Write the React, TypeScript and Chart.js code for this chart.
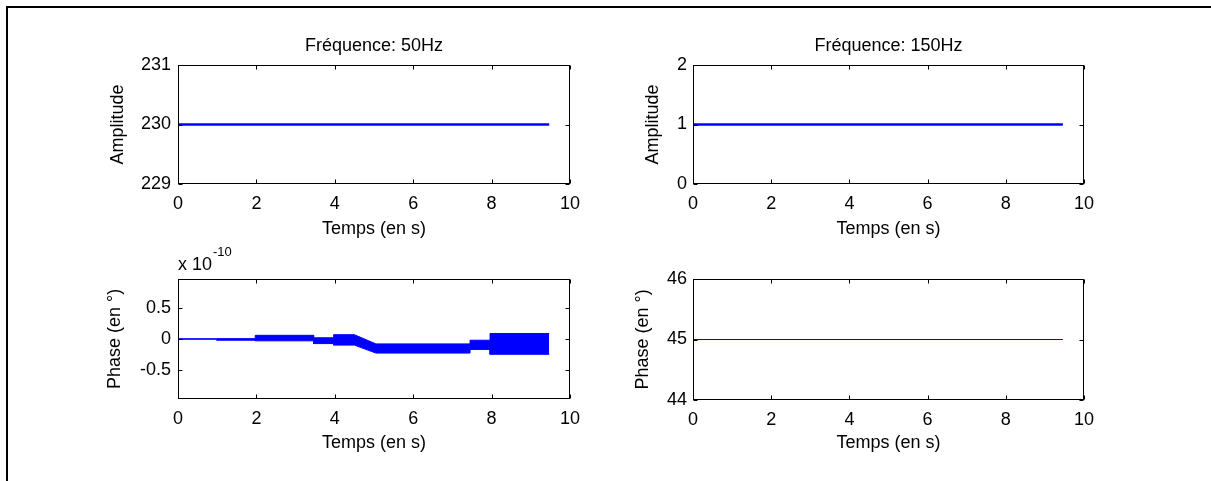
import React, { useEffect, useRef } from "react";
import { Chart, registerables } from "chart.js";

Chart.register(...registerables);

const FONT = "'Liberation Sans', Arial, Helvetica, sans-serif";
const BLUE = "#0000ff";

// ---- data ----
const xTicks = [0, 2, 4, 6, 8, 10];

// Amplitude at 50 Hz
const timeAmp50 = [0, 0.8, 2, 4, 6, 8, 9.47];
const amp50 = [230, 230, 230, 230, 230, 230, 230];
const yTicksAmp50 = [229, 230, 231];

// Amplitude at 150 Hz
const timeAmp150 = [0, 2, 4, 6, 8, 9.46];
const amp150 = [1, 1, 1, 1, 1, 1];
const yTicksAmp150 = [0, 1, 2];

// Phase at 50 Hz (units of 1e-10 deg): upper / lower envelope of the oscillating band
const timePhase50 = [0, 0.99, 0.99, 1.97, 1.97, 3.46, 3.46, 3.97, 3.97, 4.5, 5.05, 7.45, 7.45, 7.96, 7.96, 9.47];
const phase50Upper = [0.004, 0.004, 0.006, 0.006, 0.06, 0.06, 0.02, 0.02, 0.07, 0.07, -0.08, -0.08, -0.02, -0.02, 0.09, 0.09];
const phase50Lower = [-0.004, -0.004, -0.02, -0.02, -0.03, -0.03, -0.075, -0.075, -0.1, -0.1, -0.23, -0.23, -0.17, -0.17, -0.25, -0.25];
const yTicksPhase50 = [-0.5, 0, 0.5];

// Phase at 150 Hz
const timePhase150 = [0, 9.46];
const phase150 = [45, 45];
const yTicksPhase150 = [44, 45, 46];

const titles = ["Fréquence: 50Hz", "Fréquence: 150Hz"];

const pts = (xs: number[], ys: number[]) => xs.map((x, i) => ({ x, y: ys[i] }));

const CW = 520;
const CH = 225;

const boxPlugin = {
  id: "matlabBox",
  afterDraw(chart: any, _args: any, opts: any) {
    const { ctx, chartArea: a, scales } = chart;
    ctx.save();
    ctx.strokeStyle = "#000";
    ctx.lineWidth = 1;
    const L = Math.round(a.left) + 0.5;
    const R = Math.round(a.right) - 0.5;
    const T = Math.round(a.top) + 0.5;
    const B = Math.round(a.bottom) - 0.5;
    ctx.strokeRect(L, T, R - L, B - T);
    const tl = 4;
    ctx.beginPath();
    for (const v of opts.xTicks || []) {
      const px = Math.round(scales.x.getPixelForValue(v)) + 0.5;
      ctx.moveTo(px, B); ctx.lineTo(px, B - tl);
      ctx.moveTo(px, T); ctx.lineTo(px, T + tl);
    }
    for (const v of opts.yTicks || []) {
      const py = Math.round(scales.y.getPixelForValue(v)) + 0.5;
      ctx.moveTo(L, py); ctx.lineTo(L + tl, py);
      ctx.moveTo(R, py); ctx.lineTo(R - tl, py);
    }
    ctx.stroke();
    ctx.fillStyle = "#000";
    if (opts.title) {
      ctx.font = `18px ${FONT}`;
      ctx.textAlign = "center";
      ctx.textBaseline = "alphabetic";
      ctx.fillText(opts.title, (a.left + a.right) / 2, a.top - 14);
    }
    if (opts.exponent) {
      ctx.font = `18px ${FONT}`;
      ctx.textAlign = "left";
      ctx.textBaseline = "alphabetic";
      const base = "x 10";
      ctx.fillText(base, a.left, a.top - 9);
      const w = ctx.measureText(base).width;
      ctx.font = `13px ${FONT}`;
      ctx.fillText(opts.exponent, a.left + w + 1, a.top - 23);
    }
    ctx.restore();
  },
};

type PanelDef = {
  left: number;
  top: number;
  yAxisWidth: number;
  xAxisHeight: number;
  yMin: number;
  yMax: number;
  yTicks: number[];
  yLabel: string;
  yTitlePad: number;
  yTickPad: number;
  title?: string;
  exponent?: string;
  datasets: any[];
};

function Panel({ def }: { def: PanelDef }) {
  const ref = useRef<HTMLCanvasElement | null>(null);
  useEffect(() => {
    if (!ref.current) return;
    const tickFont = { family: FONT, size: 18 };
    const chart = new Chart(ref.current, {
      type: "line",
      data: { datasets: def.datasets },
      options: {
        animation: false,
        responsive: false,
        devicePixelRatio: 1,
        events: [],
        layout: { padding: { top: 45, right: 30, left: 0, bottom: 0 } },
        plugins: {
          legend: { display: false },
          tooltip: { enabled: false },
          title: { display: false },
          matlabBox: { xTicks, yTicks: def.yTicks, title: def.title, exponent: def.exponent },
        } as any,
        elements: { point: { radius: 0 }, line: { tension: 0 } },
        scales: {
          x: {
            type: "linear",
            min: 0,
            max: 10,
            afterBuildTicks: (s: any) => { s.ticks = xTicks.map((v) => ({ value: v })); },
            afterFit: (s: any) => { s.height = def.xAxisHeight; },
            grid: { display: false, drawTicks: false },
            border: { display: false },
            ticks: { padding: 9, color: "#000", font: tickFont, maxRotation: 0, autoSkip: false, callback: (v: any) => String(v) },
            title: { display: true, text: "Temps (en s)", color: "#000", font: tickFont, padding: { top: 0, bottom: 4.9 } },
          },
          y: {
            type: "linear",
            min: def.yMin,
            max: def.yMax,
            afterBuildTicks: (s: any) => { s.ticks = def.yTicks.map((v) => ({ value: v })); },
            afterFit: (s: any) => { s.width = def.yAxisWidth; },
            grid: { display: false, drawTicks: false },
            border: { display: false },
            ticks: { padding: def.yTickPad, color: "#000", font: tickFont, autoSkip: false, callback: (v: any) => String(v) },
            title: { display: true, text: def.yLabel, color: "#000", font: tickFont, padding: { top: def.yTitlePad, bottom: 0 } },
          },
        },
      } as any,
      plugins: [boxPlugin as any],
    });
    return () => chart.destroy();
  }, [def]);
  return (
    <canvas
      ref={ref}
      width={CW}
      height={CH}
      style={{ position: "absolute", left: def.left, top: def.top, width: CW, height: CH }}
    />
  );
}

const lineDs = (xs: number[], ys: number[], w: number) => ({
  data: pts(xs, ys),
  borderColor: BLUE,
  borderWidth: w,
  pointRadius: 0,
  fill: false,
});

const panels: PanelDef[] = [
  {
    left: 80, top: 20, yAxisWidth: 98, xAxisHeight: 61,
    yMin: 229, yMax: 231, yTicks: yTicksAmp50, yLabel: "Amplitude", yTitlePad: 27, yTickPad: 7,
    title: titles[0],
    datasets: [lineDs(timeAmp50, amp50, 2.5)],
  },
  {
    left: 594, top: 20, yAxisWidth: 99, xAxisHeight: 61,
    yMin: 0, yMax: 2, yTicks: yTicksAmp150, yLabel: "Amplitude", yTitlePad: 48, yTickPad: 6,
    title: titles[1],
    datasets: [lineDs(timeAmp150, amp150, 2.5)],
  },
  {
    left: 80, top: 234, yAxisWidth: 98, xAxisHeight: 60,
    yMin: -0.98, yMax: 0.98, yTicks: yTicksPhase50, yLabel: "Phase (en °)", yTitlePad: 24.5, yTickPad: 7,
    exponent: "-10",
    datasets: [
      { ...lineDs(timePhase50, phase50Upper, 1) },
      { ...lineDs(timePhase50, phase50Lower, 1), fill: "-1", backgroundColor: BLUE },
    ],
  },
  {
    left: 594, top: 234, yAxisWidth: 99, xAxisHeight: 59,
    yMin: 44, yMax: 46, yTicks: yTicksPhase150, yLabel: "Phase (en °)", yTitlePad: 38.5, yTickPad: 6,
    datasets: [lineDs(timePhase150, phase150, 1)],
  },
];

export default function App() {
  return (
    <div style={{ position: "absolute", left: 0, top: 0, width: 1211, height: 481, background: "#fff", overflow: "hidden" }}>
      <div
        style={{
          position: "absolute", left: 6, top: 6, width: 1211, height: 481,
          borderTop: "2px solid #000", borderLeft: "2px solid #000", boxSizing: "border-box",
        }}
      />
      {panels.map((p, i) => (
        <Panel key={i} def={p} />
      ))}
    </div>
  );
}
